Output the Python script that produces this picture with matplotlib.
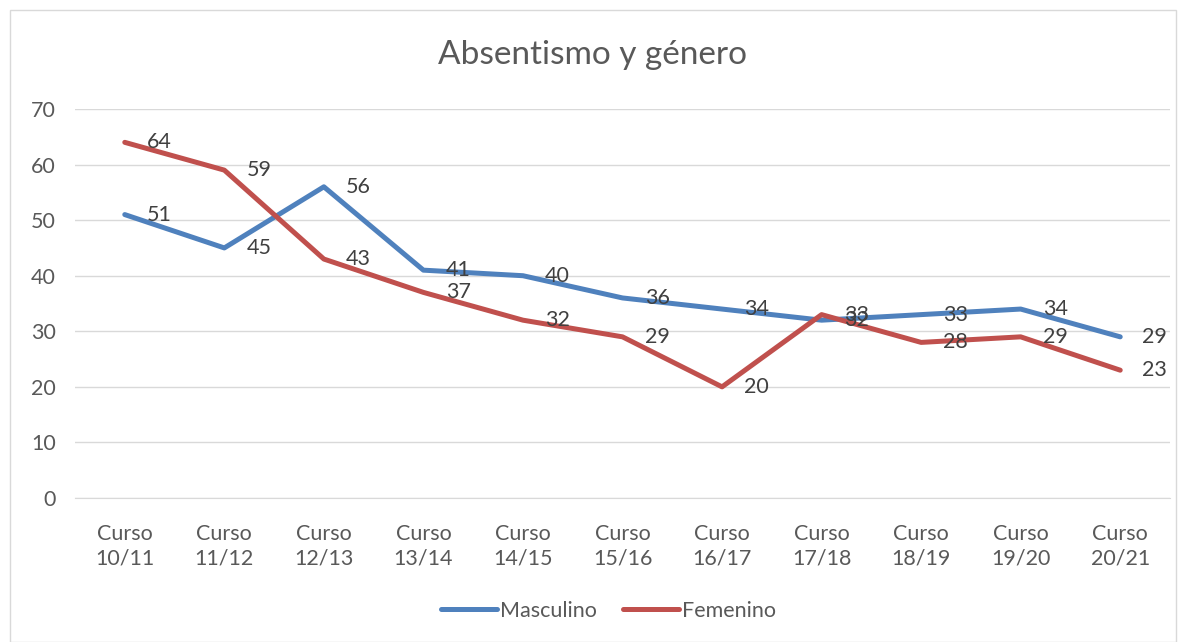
import matplotlib
matplotlib.use("Agg")
import matplotlib.pyplot as plt
from matplotlib.patches import Rectangle

categories = ["Curso\n10/11", "Curso\n11/12", "Curso\n12/13", "Curso\n13/14", "Curso\n14/15",
              "Curso\n15/16", "Curso\n16/17", "Curso\n17/18", "Curso\n18/19", "Curso\n19/20", "Curso\n20/21"]
masculino = [51, 45, 56, 41, 40, 36, 34, 32, 33, 34, 29]
femenino = [64, 59, 43, 37, 32, 29, 20, 33, 28, 29, 23]
yticks = [0, 10, 20, 30, 40, 50, 60, 70]

plt.rcParams['font.family'] = ['Lato', 'DejaVu Sans']
fig = plt.figure(figsize=(11.86, 6.42), dpi=100)
fig.patch.set_facecolor('white')
fig.patches.append(Rectangle((10/1186, 0), 1 - 20/1186, 1 - 10/642, transform=fig.transFigure,
                             fill=False, edgecolor='#d9d9d9', linewidth=1))

ax = fig.add_axes([75/1186, 1 - 498/642, (1170 - 75)/1186, (498 - 109)/642])
ax.set_facecolor('none')
x = list(range(len(categories)))
blue = '#4F81BD'
red = '#C0504D'
ax.plot(x, masculino, color=blue, linewidth=3.6, solid_capstyle='round', label='Masculino', zorder=3)
ax.plot(x, femenino, color=red, linewidth=3.6, solid_capstyle='round', label='Femenino', zorder=3)

for xi, v in zip(x, masculino):
    ax.annotate(str(v), (xi, v), xytext=(16, 0), textcoords='offset points', ha='left', va='center',
                fontsize=15.5, color='#404040', zorder=4)
for xi, v in zip(x, femenino):
    ax.annotate(str(v), (xi, v), xytext=(16, 0), textcoords='offset points', ha='left', va='center',
                fontsize=15.5, color='#404040', zorder=4)

ax.set_xlim(-0.5, len(categories) - 0.5)
ax.set_ylim(0, 70)
ax.set_yticks(yticks)
ax.set_xticks(x)
ax.set_xticklabels(categories, linespacing=1.25)
ax.grid(axis='y', color='#d9d9d9', linewidth=1)
ax.set_axisbelow(True)
for s in ['top', 'right', 'left']:
    ax.spines[s].set_visible(False)
ax.spines['bottom'].set_color('#d9d9d9')
ax.tick_params(axis='both', length=0, labelsize=15.5, colors='#595959')
ax.tick_params(axis='y', pad=14)
ax.tick_params(axis='x', pad=19)

fig.text(0.5, 1 - 55/642, "Absentismo y género", ha='center', va='center', fontsize=24, color='#595959')

handles, labels = ax.get_legend_handles_labels()
fig.legend(handles, labels, loc='center', bbox_to_anchor=(0.513, 1 - 611/642), ncol=2, frameon=False,
           fontsize=15.5, labelcolor='#595959', handlelength=2.6, handletextpad=0.15, columnspacing=1.2)

fig.savefig("out.png", dpi=100)
